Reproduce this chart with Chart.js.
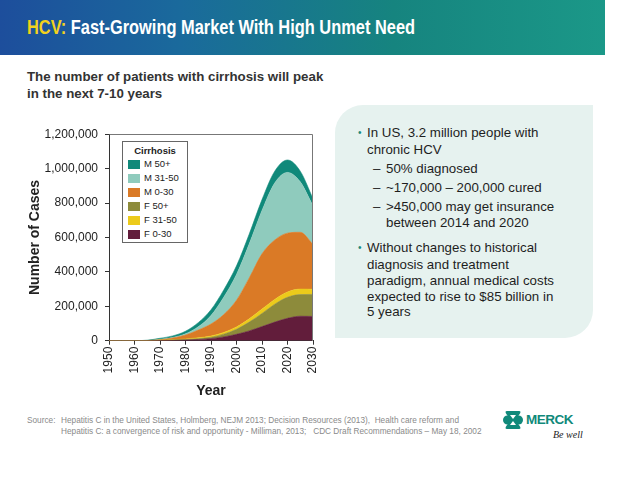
<!DOCTYPE html>
<html><head><meta charset="utf-8">
<script src="https://cdn.jsdelivr.net/npm/chart.js@4.4.0/dist/chart.umd.min.js"></script>
<style>
html,body{margin:0;padding:0;background:#fff;}
body{width:640px;height:481px;position:relative;overflow:hidden;font-family:"Liberation Sans",Arial,sans-serif;}
#banner{position:absolute;left:0;top:0;width:605px;height:55px;background:linear-gradient(90deg,#1d4e9c 0%,#1a6a9c 30%,#16847f 65%,#1b9888 100%);}
#title{position:absolute;left:27px;top:15px;font-family:"Liberation Sans",Arial,sans-serif;font-weight:bold;font-size:20.5px;line-height:24px;color:#fff;white-space:nowrap;transform:scaleX(0.8);transform-origin:0 0;}
#title span{color:#f3d21c;}
.sub{position:absolute;left:27px;font-weight:bold;font-size:13.3px;line-height:16px;color:#333;white-space:nowrap;}
#panel{position:absolute;left:335px;top:105px;width:258px;height:233px;background:#e6f2ef;border-radius:28px 0 28px 0;}
.bl{position:absolute;font-size:13.3px;line-height:16px;color:#1e1e1e;white-space:nowrap;}
.dot{position:absolute;font-size:10px;line-height:16px;color:#1a8a7a;}
.src{position:absolute;font-size:8.25px;line-height:10px;color:#8a8a8a;white-space:nowrap;}
#chartwrap{position:absolute;left:0;top:120px;width:330px;height:290px;}
#legend{position:absolute;left:122px;top:141px;width:64px;height:100px;border:1px solid #666;background:#fff;}
#legend .lt{position:absolute;left:0;width:64px;top:3px;text-align:center;font-weight:bold;font-size:9.5px;color:#222;}
#legend .it{position:absolute;left:5px;height:10px;}
#legend .sw{position:absolute;left:0;top:1px;width:12px;height:9px;}
#legend .tx{position:absolute;left:16px;top:-1px;font-size:9.5px;line-height:12px;color:#222;white-space:nowrap;}
#logo{position:absolute;left:503px;top:409px;width:90px;height:40px;}
#merck{position:absolute;left:23px;top:3px;font-weight:bold;font-size:13.5px;color:#10897a;letter-spacing:-0.5px;}
#bewell{position:absolute;left:50px;top:20px;font-family:"Liberation Serif",serif;font-style:italic;font-size:10px;color:#222;}
</style></head>
<body>
<div id="banner"></div>
<div id="title"><span>HCV:</span> Fast-Growing Market With High Unmet Need</div>
<div class="sub" style="top:69px">The number of patients with cirrhosis will peak</div>
<div class="sub" style="top:86px">in the next 7-10 years</div>

<div id="panel"></div>
<div class="dot" style="left:358px;top:125px">•</div>
<div class="bl" style="left:367px;top:125px">In US, 3.2 million people with</div>
<div class="bl" style="left:367px;top:142px">chronic HCV</div>
<div class="bl" style="left:373px;top:161px">–</div>
<div class="bl" style="left:386px;top:161px">50% diagnosed</div>
<div class="bl" style="left:373px;top:180px">–</div>
<div class="bl" style="left:386px;top:180px">~170,000 – 200,000 cured</div>
<div class="bl" style="left:373px;top:199px">–</div>
<div class="bl" style="left:386px;top:199px">&gt;450,000 may get insurance</div>
<div class="bl" style="left:386px;top:215px">between 2014 and 2020</div>
<div class="dot" style="left:358px;top:240px">•</div>
<div class="bl" style="left:367px;top:240px">Without changes to historical</div>
<div class="bl" style="left:367px;top:257px">diagnosis and treatment</div>
<div class="bl" style="left:367px;top:273px">paradigm, annual medical costs</div>
<div class="bl" style="left:367px;top:289px">expected to rise to $85 billion in</div>
<div class="bl" style="left:367px;top:304px">5 years</div>

<div id="chartwrap"><canvas id="c" width="330" height="290"></canvas></div>

<div id="legend">
  <div class="lt">Cirrhosis</div>
</div>

<div class="src" style="left:27px;top:416px">Source:</div>
<div class="src" style="left:61px;top:416px">Hepatitis C in the United States, Holmberg, NEJM 2013; Decision Resources (2013),&nbsp; Health care reform and</div>
<div class="src" style="left:61px;top:427px">Hepatitis C: a convergence of risk and opportunity - Milliman, 2013;&nbsp;&nbsp; CDC Draft Recommendations – May 18, 2002</div>

<div id="logo">
  <svg width="20" height="20" viewBox="0 0 20 20" style="position:absolute;left:0;top:1px">
    <circle cx="4.5" cy="10" r="4.5" fill="#10897a"/>
    <circle cx="15.5" cy="10" r="4.5" fill="#10897a"/>
    <path d="M4 1 H16 Q19 1 16 5 L12 10 L16 15 Q19 19 16 19 H4 Q1 19 4 15 L8 10 L4 5 Q1 1 4 1 Z" fill="#10897a"/>
    <path d="M7 5 H13 L10 9 Z M7 15 H13 L10 11 Z" fill="#fff"/>
  </svg>
  <div id="merck">MERCK</div>
  <div id="bewell">Be well</div>
</div>

<script>
// ---- data ----
const years = [1950,1955,1960,1965,1970,1975,1980,1985,1990,1995,2000,2005,2010,2015,2020,2025,2030];
const yearTicks = [1950,1960,1970,1980,1990,2000,2010,2020,2030];
const caseTicks = [0,200000,400000,600000,800000,1000000,1200000];
// stacked bottom -> top
const seriesNames = ["F 0-30","F 50+","F 31-50","M 0-30","M 31-50","M 50+"];
const F0_30  = [0,0,0,0,1000,2000,4000,7000,12000,22000,37000,57000,82000,108000,130000,142000,141000];
const F50p   = [0,0,0,0,1000,2000,3000,5000,8000,16000,29000,51000,76000,104000,122000,126000,128000];
const F31_50 = [0,0,0,0,1000,2000,3000,5000,7000,10000,14000,19000,26000,28000,31000,32000,30000];
const M0_30  = [0,0,0,1000,3000,10000,23000,45000,70000,104000,155000,238000,321000,345000,342000,330000,261000];
const M31_50 = [0,0,0,0,2000,3000,7000,19000,50000,101000,150000,198000,252000,332000,353000,293000,223000];
const M50p   = [0,0,0,2000,6000,9000,15000,24000,33000,42000,50000,57000,63000,68000,72000,62000,42000];
const legendOrder = ["M 50+","M 31-50","M 0-30","F 50+","F 31-50","F 0-30"];

// ---- styles ----
const colors = {"F 0-30":"#621d3b","F 50+":"#8d8b3b","F 31-50":"#eccb1b","M 0-30":"#da7a26","M 31-50":"#8fcbbd","M 50+":"#10897a"};
const seriesData = [F0_30,F50p,F31_50,M0_30,M31_50,M50p];

const datasets = seriesNames.map((n,i)=>({
  label:n,
  data: years.map((y,j)=>({x:y,y:seriesData[i][j]})),
  backgroundColor: colors[n],
  borderColor: colors[n],
  borderWidth: 0.6,
  pointRadius: 0,
  fill: i===0 ? 'origin' : '-1',
  cubicInterpolationMode: 'monotone'
}));

// html legend
const lg = document.getElementById('legend');
legendOrder.forEach((n,i)=>{
  const d=document.createElement('div'); d.className='it'; d.style.top=(17+i*14)+'px';
  d.innerHTML='<div class="sw" style="background:'+colors[n]+'"></div><div class="tx">'+n+'</div>';
  lg.appendChild(d);
});

const frame = {
  id:'frame',
  afterDatasetsDraw(chart){
    const a=chart.chartArea, ctx=chart.ctx;
    ctx.save(); ctx.strokeStyle='#777'; ctx.lineWidth=1;
    ctx.beginPath();
    ctx.moveTo(Math.round(a.left)+0.5, Math.round(a.top)+0.5);
    ctx.lineTo(Math.round(a.right)-0.5, Math.round(a.top)+0.5);
    ctx.lineTo(Math.round(a.right)-0.5, Math.round(a.bottom));
    ctx.stroke(); ctx.restore();
  }
};

new Chart(document.getElementById('c'),{
  type:'line',
  data:{datasets},
  plugins:[frame],
  options:{
    responsive:false, animation:false,
    layout:{padding:{top:10.5,right:17,left:0,bottom:0}},
    plugins:{legend:{display:false},tooltip:{enabled:false}},
    scales:{
      x:{type:'linear',min:1950,max:2030,
        afterBuildTicks(s){ s.ticks = yearTicks.map(v=>({value:v})); },
        afterFit(s){ s.height = 69.3; },
        grid:{display:true,drawOnChartArea:false,drawTicks:true,tickLength:4,color:'#333'},
        border:{display:true,color:'#333',width:1},
        ticks:{autoSkip:false,minRotation:90,maxRotation:90,padding:2,color:'#222',font:{family:'"Liberation Sans", Arial, sans-serif',size:12},callback:v=>String(v)},
        title:{display:true,text:'Year',color:'#222',font:{family:'"Liberation Sans", Arial, sans-serif',size:14,weight:'bold'},padding:{top:10.6,bottom:10.6}}
      },
      y:{stacked:true,min:0,max:1200000,
        afterBuildTicks(s){ s.ticks = caseTicks.map(v=>({value:v})); },
        afterFit(s){ s.width = 109; },
        grid:{display:true,drawOnChartArea:false,drawTicks:true,tickLength:4,color:'#333'},
        border:{display:true,color:'#333',width:1},
        ticks:{padding:7,color:'#222',font:{family:'"Liberation Sans", Arial, sans-serif',size:12},callback:v=>v.toLocaleString('en-US')},
        title:{display:true,text:'Number of Cases',color:'#222',font:{family:'"Liberation Sans", Arial, sans-serif',size:14,weight:'bold'},padding:{top:26.6,bottom:26.6}}
      }
    }
  }
});
</script>
</body></html>
